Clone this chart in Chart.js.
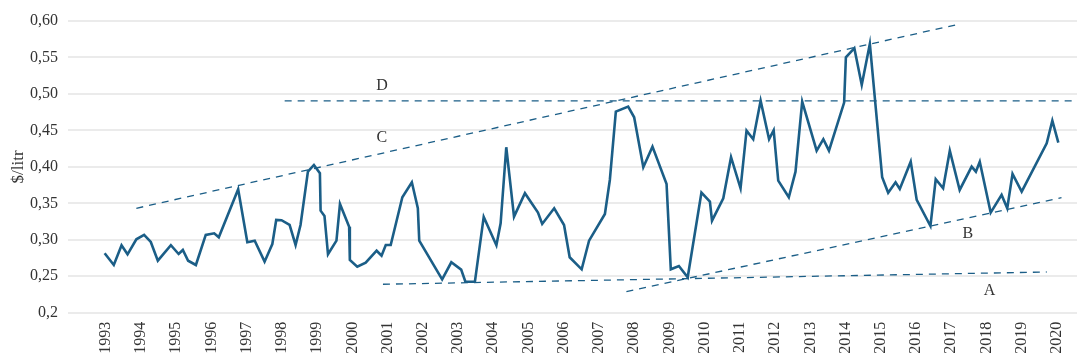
<!DOCTYPE html>
<html>
<head>
<meta charset="utf-8">
<script src="https://cdn.jsdelivr.net/npm/chart.js@4"></script>
<style>
  body { margin: 0; background: #fff; }
</style>
</head>
<body>
<canvas id="myChart" width="1077" height="359"></canvas>
<script>
  // price series, decimal years and $/litr
  var dates = [
    1992.97, 1993.23, 1993.45, 1993.62, 1993.87, 1994.09, 1994.28, 1994.48, 1994.85, 1995.07,
    1995.19, 1995.34, 1995.56, 1995.84, 1996.08, 1996.21, 1996.76, 1997.02, 1997.23, 1997.51,
    1997.73, 1997.84, 1997.99, 1998.22, 1998.39, 1998.53, 1998.74, 1998.91, 1999.08, 1999.10,
    1999.21, 1999.31, 1999.55, 1999.65, 1999.91, 1999.93, 2000.14, 2000.38, 2000.69, 2000.83,
    2000.95, 2001.09, 2001.42, 2001.69, 2001.86, 2001.90, 2002.55, 2002.81, 2003.09, 2003.21,
    2003.48, 2003.73, 2004.09, 2004.21, 2004.37, 2004.59, 2004.90, 2005.27, 2005.39, 2005.73,
    2006.01, 2006.17, 2006.51, 2006.72, 2007.17, 2007.31, 2007.48, 2007.83, 2008.00, 2008.26,
    2008.52, 2008.92, 2009.04, 2009.27, 2009.52, 2009.91, 2010.15, 2010.21, 2010.53, 2010.75,
    2011.02, 2011.19, 2011.38, 2011.59, 2011.83, 2011.96, 2012.09, 2012.39, 2012.58, 2012.77,
    2013.18, 2013.37, 2013.53, 2013.96, 2014.01, 2014.25, 2014.46, 2014.69, 2015.04, 2015.21,
    2015.42, 2015.54, 2015.85, 2016.02, 2016.41, 2016.56, 2016.77, 2016.96, 2017.24, 2017.58,
    2017.70, 2017.81, 2018.12, 2018.43, 2018.59, 2018.74, 2019.00, 2019.71, 2019.87, 2020.04
  ];
  var prices = [
    0.2815, 0.2654, 0.2925, 0.2801, 0.3007, 0.3066, 0.2970, 0.2713, 0.2925, 0.2805,
    0.2860, 0.2713, 0.2654, 0.3066, 0.3089, 0.3034, 0.3693, 0.2966, 0.2988, 0.2700,
    0.2942, 0.3272, 0.3268, 0.3203, 0.2929, 0.3203, 0.3934, 0.4026, 0.3912, 0.3399,
    0.3326, 0.2801, 0.2988, 0.3491, 0.3180, 0.2723, 0.2631, 0.2686, 0.2850, 0.2782,
    0.2929, 0.2929, 0.3583, 0.3789, 0.3432, 0.2988, 0.2458, 0.2691, 0.2590, 0.2425,
    0.2425, 0.3313, 0.2926, 0.3226, 0.4269, 0.3317, 0.3638, 0.3372, 0.3217, 0.3432,
    0.3203, 0.2760, 0.2595, 0.2988, 0.3354, 0.3820, 0.4757, 0.4826, 0.4680, 0.3995,
    0.4277, 0.3765, 0.2595, 0.2641, 0.2486, 0.3646, 0.3523, 0.3262, 0.3569, 0.4132,
    0.3706, 0.4497, 0.4379, 0.4908, 0.4379, 0.4502, 0.3811, 0.3583, 0.3934, 0.4894,
    0.4222, 0.4379, 0.4222, 0.4881, 0.5503, 0.5627, 0.5123, 0.5686, 0.3857, 0.3646,
    0.3789, 0.3697, 0.4071, 0.3546, 0.3189, 0.3830, 0.3706, 0.4222, 0.3683, 0.4003,
    0.3934, 0.4071, 0.3372, 0.3615, 0.3432, 0.3903, 0.3660, 0.4324, 0.4634, 0.4332
  ];

  // dashed trend lines (start, end)
  var lineAx = [2000.87, 2019.71];
  var lineAy = [0.239, 0.2558];
  var lineBx = [2007.78, 2020.13];
  var lineBy = [0.2288, 0.3577];
  var lineCx = [1993.87, 2017.13];
  var lineCy = [0.3432, 0.5947];
  var lineDx = [1998.08, 2020.57];
  var lineDy = [0.4904, 0.4904];

  // letters next to the trend lines
  var markNames = ['D', 'C', 'B', 'A'];
  var markX = [2000.84, 2000.84, 2017.47, 2018.09];
  var markY = [0.511, 0.4396, 0.308, 0.2298];

  var yearTicks = [1993, 1994, 1995, 1996, 1997, 1998, 1999, 2000, 2001, 2002, 2003, 2004, 2005, 2006,
    2007, 2008, 2009, 2010, 2011, 2012, 2013, 2014, 2015, 2016, 2017, 2018, 2019, 2020];
  var yTickValues = [0.2, 0.25, 0.3, 0.35, 0.4, 0.45, 0.5, 0.55, 0.6];
  var yTickLabels = ['0,2', '0,25', '0,30', '0,35', '0,40', '0,45', '0,50', '0,55', '0,60'];

  var blue = '#1b5e87';
  var serif = "'Liberation Serif', 'DejaVu Serif', serif";

  function pts(xs, ys) {
    return xs.map(function (x, i) { return { x: x, y: ys[i] }; });
  }

  function dashed(xs, ys) {
    return {
      data: pts(xs, ys),
      borderColor: blue,
      borderWidth: 1.3,
      borderDash: [7, 6],
      pointRadius: 0,
      fill: false
    };
  }

  var letters = {
    id: 'letters',
    afterDatasetsDraw: function (chart) {
      var c = chart.ctx;
      var sx = chart.scales.x, sy = chart.scales.y;
      c.save();
      c.font = '16px ' + serif;
      c.fillStyle = '#333';
      c.textAlign = 'center';
      c.textBaseline = 'middle';
      markNames.forEach(function (t, i) {
        c.fillText(t, sx.getPixelForValue(markX[i]), sy.getPixelForValue(markY[i]));
      });
      c.restore();
    }
  };

  var ctx = document.getElementById('myChart').getContext('2d');
  var myChart = new Chart(ctx, {
    type: 'line',
    data: {
      datasets: [
        {
          data: pts(dates, prices),
          borderColor: blue,
          borderWidth: 2.6,
          pointRadius: 0,
          tension: 0,
          fill: false
        },
        dashed(lineAx, lineAy),
        dashed(lineBx, lineBy),
        dashed(lineCx, lineCy),
        dashed(lineDx, lineDy)
      ]
    },
    options: {
      responsive: false,
      animation: false,
      layout: { padding: { top: 21, right: 0, left: 0, bottom: 0 } },
      plugins: {
        legend: { display: false },
        tooltip: { enabled: false }
      },
      scales: {
        x: {
          type: 'linear',
          min: 1991.93,
          max: 2020.57,
          afterBuildTicks: function (s) {
            s.ticks = yearTicks.map(function (v) { return { value: v }; });
          },
          afterFit: function (s) {
            s.height = 46.3;
            s.paddingLeft = 0;
            s.paddingRight = 0;
          },
          grid: { display: false, drawTicks: false },
          border: { display: false },
          ticks: {
            autoSkip: false,
            minRotation: 90,
            maxRotation: 90,
            padding: 9,
            color: '#333',
            font: { family: serif, size: 16 },
            callback: function (v) { return String(v); }
          }
        },
        y: {
          min: 0.2,
          max: 0.6,
          afterBuildTicks: function (s) {
            s.ticks = yTickValues.map(function (v) { return { value: v }; });
          },
          afterFit: function (s) { s.width = 68; },
          grid: { color: '#ebebeb', lineWidth: 2, drawTicks: false },
          border: { display: false },
          ticks: {
            padding: 10,
            color: '#333',
            font: { family: serif, size: 16 },
            callback: function (v, i) { return yTickLabels[i]; }
          },
          title: {
            display: true,
            text: '$/litr',
            color: '#333',
            font: { family: serif, size: 17 },
            padding: { top: 8, bottom: 0 }
          }
        }
      }
    },
    plugins: [letters]
  });
</script>
</body>
</html>
